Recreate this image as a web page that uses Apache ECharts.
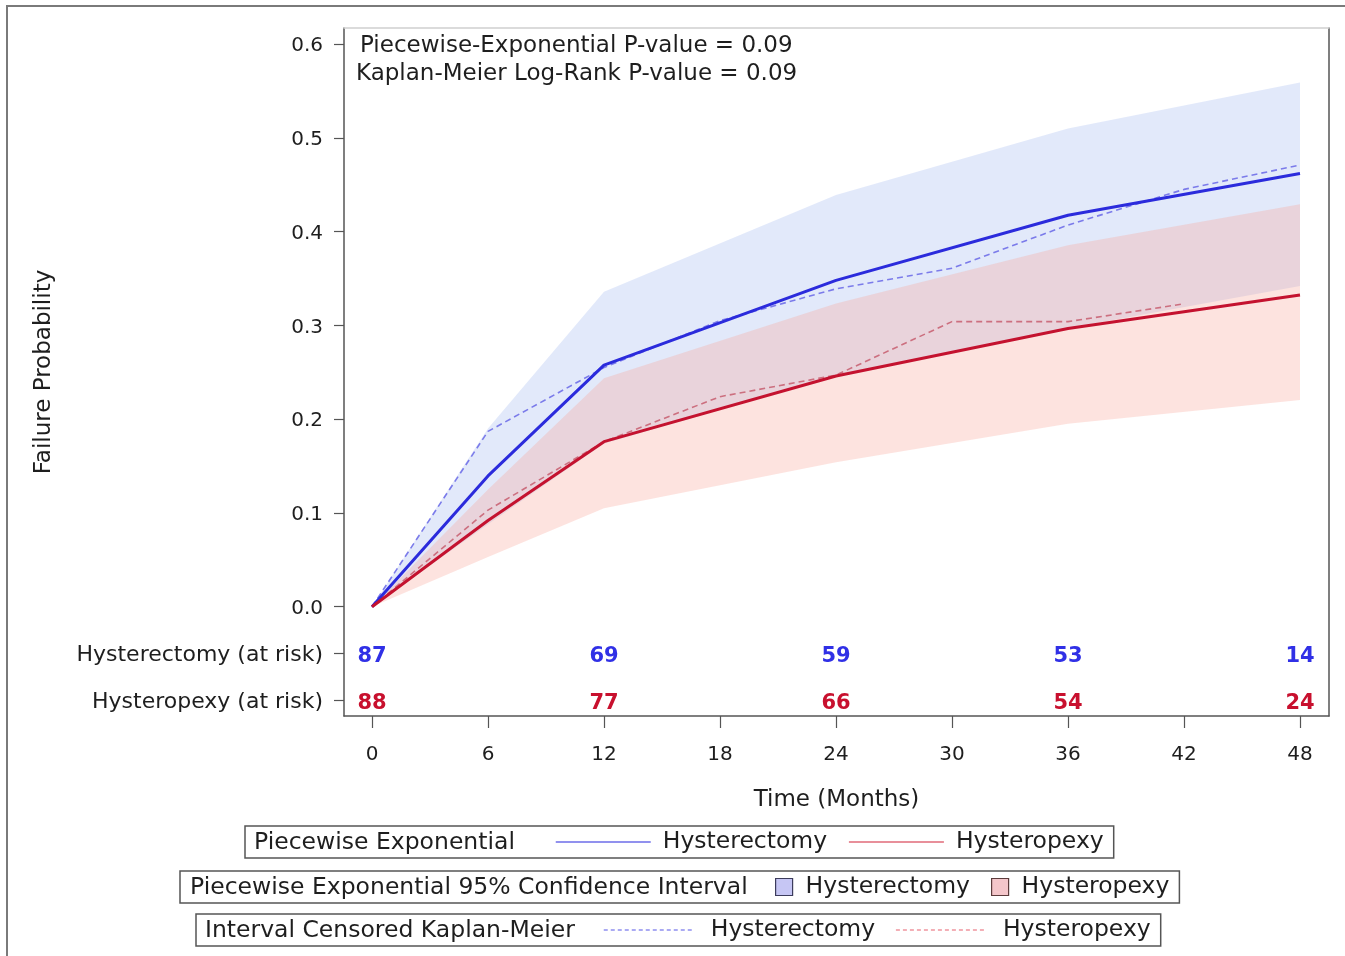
<!DOCTYPE html>
<html><head><meta charset="utf-8">
<script src="https://cdn.jsdelivr.net/npm/echarts@6/dist/echarts.min.js"></script>
<style>html,body{margin:0;padding:0;background:#fff}#c{width:1345px;height:956px}</style>
</head><body><div id="c"></div>
<script>
// ---------------- data ----------------
const peTimes = [0, 6, 12, 24, 36, 48];
const peHysterectomy = [0, 0.1395, 0.2577, 0.348, 0.4175, 0.462];
const peHysteropexy = [0, 0.092, 0.176, 0.246, 0.2966, 0.3323];
const ciHysterectomyLower = [0, 0.088, 0.174, 0.246, 0.297, 0.342];
const ciHysterectomyUpper = [0, 0.19, 0.336, 0.439, 0.51, 0.559];
const ciHysteropexyLower = [0, 0.053, 0.105, 0.154, 0.195, 0.2204];
const ciHysteropexyUpper = [0, 0.125, 0.2436, 0.3234, 0.3855, 0.4292];

const kmHysterectomyTimes = [0, 6, 12, 18, 24, 30, 36, 42, 48];
const kmHysterectomy = [0, 0.187, 0.255, 0.305, 0.339, 0.361, 0.407, 0.445, 0.471];
const kmHysteropexyTimes = [0, 6, 12, 18, 24, 30, 36, 42];
const kmHysteropexy = [0, 0.103, 0.176, 0.224, 0.247, 0.304, 0.304, 0.323];

const atRiskTimes = [0, 12, 24, 36, 48];
const hysterectomyAtRisk = [87, 69, 59, 53, 14];
const hysteropexyAtRisk = [88, 77, 66, 54, 24];

const xTickValues = [0, 6, 12, 18, 24, 30, 36, 42, 48];
const yTickValues = [0, 0.1, 0.2, 0.3, 0.4, 0.5, 0.6];
const riskRowLabels = ['Hysterectomy (at risk)', 'Hysteropexy (at risk)'];
const annotationLines = ['Piecewise-Exponential P-value = 0.09', 'Kaplan-Meier Log-Rank P-value = 0.09'];
const legendTitles = ['Piecewise Exponential', 'Piecewise Exponential 95% Confidence Interval', 'Interval Censored Kaplan-Meier'];

// ---------------- layout / style ----------------
const FONT = 'DejaVu Sans';
const TXT = '#1e1e1e';
const X_MIN = -1.448, X_MAX = 49.5;
const Y_MIN = -0.1165, Y_MAX = 0.6171;
const RISK_ROW_Y = [-0.0497, -0.0995];
const LEG_FS = 23.5;
const C = {
  blue: '#2b2bdc', red: '#c4122f',
  blueDash: '#7b7bea', redDash: '#cc6f7f',
  blueLegend: '#6d6de8', redLegend: '#e06a78',
  blueDashLegend: '#8e8ef0', redDashLegend: '#f0959f',
  blueBand: 'rgb(158,182,239)', redBand: 'rgb(248,162,149)',
  blueNum: '#3030e6', redNum: '#c8102e'
};

function pairs(xs, ys) { return xs.map((x, i) => [x, ys[i]]); }
function sameVal(a, b) { return Math.abs(a - b) < 1e-6; }

function bandSeries(name, xs, lo, hi, fill, legendColor) {
  return {
    name: name, type: 'custom', silent: true, z: 1,
    data: xs.map((x, i) => [x, lo[i], hi[i]]),
    encode: { x: 0, y: [1, 2] },
    itemStyle: { color: legendColor },
    renderItem: function (params, api) {
      if (params.dataIndex !== 0) return null;
      const top = xs.map((x, i) => api.coord([x, hi[i]]));
      const bottom = xs.map((x, i) => api.coord([x, lo[i]])).reverse();
      return { type: 'polygon', shape: { points: top.concat(bottom) }, style: { fill: fill, opacity: 0.3 }, silent: true };
    }
  };
}

function riskSeries(name, yRow, counts, color) {
  return {
    name: name, type: 'scatter', silent: true, z: 5,
    data: atRiskTimes.map((t, i) => [t, yRow, counts[i]]),
    symbolSize: 1, itemStyle: { color: 'rgba(0,0,0,0)', opacity: 1 },
    label: { show: true, position: 'inside', offset: [0, 3], opacity: 1, formatter: p => String(p.value[2]),
      color: color, fontSize: 21, fontWeight: 'bold', fontFamily: FONT }
  };
}

const chart = echarts.init(document.getElementById('c'), null, { renderer: 'canvas' });

const legendCommon = {
  orient: 'horizontal', selectedMode: false,
  borderColor: '#555', borderWidth: 1.5, borderRadius: 0,
  formatter: n => n.replace(/^\S+ /, '')
};

const option = {
  animation: false,
  backgroundColor: '#fff',
  grid: { left: 344, right: 16, top: 28, bottom: 240, containLabel: false, outerBoundsMode: 'none' },
  xAxis: [
    {
      type: 'value', min: X_MIN, max: X_MAX, position: 'bottom',
      axisLine: { show: true, onZero: false, lineStyle: { color: '#555', width: 1.5 } },
      axisTick: { show: true, length: 12, customValues: xTickValues, lineStyle: { color: '#555', width: 1.2 } },
      axisLabel: { customValues: xTickValues, fontSize: 20, fontFamily: FONT, color: TXT, margin: 29 },
      splitLine: { show: false },
      name: 'Time (Months)', nameLocation: 'middle', nameGap: 73,
      nameTextStyle: { fontSize: 23, fontFamily: FONT, color: TXT }
    },
    {
      type: 'value', min: X_MIN, max: X_MAX, position: 'top',
      axisLine: { show: true, onZero: false, lineStyle: { color: '#cfcfcf', width: 1.5 } },
      axisTick: { show: false }, axisLabel: { show: false }, splitLine: { show: false }
    }
  ],
  yAxis: [
    {
      type: 'value', min: Y_MIN, max: Y_MAX, position: 'left',
      axisLine: { show: true, onZero: false, lineStyle: { color: '#555', width: 1.5 } },
      axisTick: { show: true, length: 10, customValues: RISK_ROW_Y.concat(yTickValues), lineStyle: { color: '#555', width: 1.2 } },
      axisLabel: {
        customValues: RISK_ROW_Y.concat(yTickValues), fontSize: 20, fontFamily: FONT, color: TXT, margin: 21,
        padding: [4, 0, 0, 0],
        formatter: v => {
          for (let i = 0; i < RISK_ROW_Y.length; i++) if (sameVal(v, RISK_ROW_Y[i])) return '{cat|' + riskRowLabels[i] + '}';
          return v.toFixed(1);
        },
        rich: { cat: { fontSize: 22, fontFamily: FONT, color: TXT } }
      },
      splitLine: { show: false },
      name: 'Failure Probability', nameLocation: 'middle', nameGap: 288,
      nameTextStyle: { fontSize: 23, fontFamily: FONT, color: TXT }
    },
    {
      type: 'value', min: Y_MIN, max: Y_MAX, position: 'right',
      axisLine: { show: true, onZero: false, lineStyle: { color: '#555', width: 1.5 } },
      axisTick: { show: false }, axisLabel: { show: false }, splitLine: { show: false }
    }
  ],
  legend: [
    Object.assign({}, legendCommon, {
      left: 245, top: 826, padding: [4, 10, 4, 310], itemWidth: 95, itemHeight: 14, itemGap: 21,
      textStyle: { fontFamily: FONT, fontSize: LEG_FS, color: TXT, lineHeight: 24, padding: [0, 0, 0, 7] },
      data: [
        { name: 'PE Hysterectomy', lineStyle: { color: C.blueLegend, width: 1.5, type: 'solid' }, itemStyle: { opacity: 0 } },
        { name: 'PE Hysteropexy', lineStyle: { color: C.redLegend, width: 1.5, type: 'solid' }, itemStyle: { opacity: 0 } }
      ]
    }),
    Object.assign({}, legendCommon, {
      left: 180, top: 871, padding: [4, 10, 4, 595], itemWidth: 17, itemHeight: 17, itemGap: 21,
      textStyle: { fontFamily: FONT, fontSize: LEG_FS, color: TXT, lineHeight: 24, padding: [0, 0, 0, 8] },
      data: [
        { name: 'CI Hysterectomy', icon: 'rect', itemStyle: { color: '#c6c6f4', borderColor: '#3c3c5c', borderWidth: 1.2 } },
        { name: 'CI Hysteropexy', icon: 'rect', itemStyle: { color: '#f4c6ca', borderColor: '#5c3c3c', borderWidth: 1.2 } }
      ]
    }),
    Object.assign({}, legendCommon, {
      left: 196, top: 914, padding: [4, 10, 4, 407], itemWidth: 90, itemHeight: 14, itemGap: 20,
      textStyle: { fontFamily: FONT, fontSize: LEG_FS, color: TXT, lineHeight: 24, padding: [0, 0, 0, 12] },
      data: [
        { name: 'KM Hysterectomy', lineStyle: { color: C.blueDashLegend, width: 1.5, type: [4, 3] }, itemStyle: { opacity: 0 } },
        { name: 'KM Hysteropexy', lineStyle: { color: C.redDashLegend, width: 1.5, type: [4, 3] }, itemStyle: { opacity: 0 } }
      ]
    })
  ],
  graphic: [
    { type: 'rect', shape: { x: 7, y: 6, width: 1400, height: 1000 }, style: { fill: 'none', stroke: '#7a7a7a', lineWidth: 2 }, z: 0, silent: true },
    { type: 'text', x: 360, y: 46, style: { text: annotationLines[0], fontSize: 23, fontFamily: FONT, fill: TXT, verticalAlign: 'middle' }, z: 10 },
    { type: 'text', x: 356, y: 74, style: { text: annotationLines[1], fontSize: 23, fontFamily: FONT, fill: TXT, verticalAlign: 'middle' }, z: 10 },
    { type: 'text', x: 254, y: 843, style: { text: legendTitles[0], fontSize: LEG_FS, fontFamily: FONT, fill: TXT, verticalAlign: 'middle' }, z: 10 },
    { type: 'text', x: 190, y: 888, style: { text: legendTitles[1], fontSize: LEG_FS, fontFamily: FONT, fill: TXT, verticalAlign: 'middle' }, z: 10 },
    { type: 'text', x: 205, y: 931, style: { text: legendTitles[2], fontSize: LEG_FS, fontFamily: FONT, fill: TXT, verticalAlign: 'middle' }, z: 10 }
  ],
  series: [
    bandSeries('CI Hysterectomy', peTimes, ciHysterectomyLower, ciHysterectomyUpper, C.blueBand, '#c6c6f4'),
    bandSeries('CI Hysteropexy', peTimes, ciHysteropexyLower, ciHysteropexyUpper, C.redBand, '#f4c6ca'),
    { name: 'KM Hysterectomy', type: 'line', data: pairs(kmHysterectomyTimes, kmHysterectomy), symbol: 'none',
      lineStyle: { color: C.blueDash, width: 1.6, type: [6, 4] }, itemStyle: { color: C.blueDash }, z: 3 },
    { name: 'KM Hysteropexy', type: 'line', data: pairs(kmHysteropexyTimes, kmHysteropexy), symbol: 'none',
      lineStyle: { color: C.redDash, width: 1.6, type: [6, 4] }, itemStyle: { color: C.redDash }, z: 3 },
    { name: 'PE Hysterectomy', type: 'line', data: pairs(peTimes, peHysterectomy), symbol: 'none',
      lineStyle: { color: C.blue, width: 3 }, itemStyle: { color: C.blue }, z: 4 },
    { name: 'PE Hysteropexy', type: 'line', data: pairs(peTimes, peHysteropexy), symbol: 'none',
      lineStyle: { color: C.red, width: 3 }, itemStyle: { color: C.red }, z: 4 },
    riskSeries('risk-hysterectomy', RISK_ROW_Y[0], hysterectomyAtRisk, C.blueNum),
    riskSeries('risk-hysteropexy', RISK_ROW_Y[1], hysteropexyAtRisk, C.redNum)
  ]
};
chart.setOption(option);
</script>
</body></html>
